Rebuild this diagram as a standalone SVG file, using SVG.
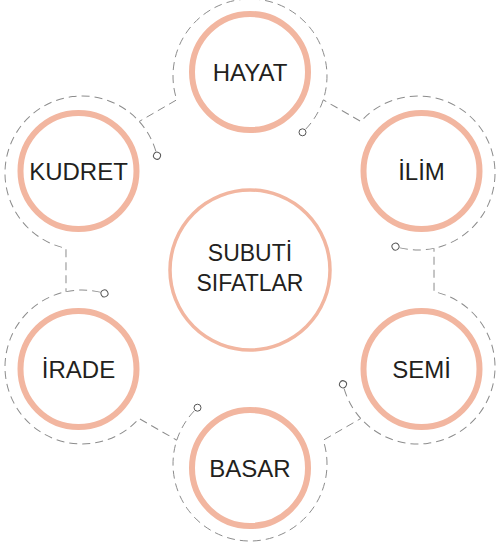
<svg xmlns="http://www.w3.org/2000/svg" xmlns:xlink="http://www.w3.org/1999/xlink" width="496" height="552" viewBox="0 0 496 552">
  <style>
    .ring { fill: #ffffff; stroke: #F2B6A0; stroke-width: 6; }
    .core { fill: #ffffff; stroke: #F2B6A0; stroke-width: 3.5; }
    .lbl { font-family: "Liberation Sans", Arial, sans-serif; font-size: 24px; fill: #231F20; text-anchor: middle; }
    .clbl { font-family: "Liberation Sans", Arial, sans-serif; font-size: 23px; fill: #231F20; text-anchor: middle; }
    .dash { fill: none; stroke: #8C8C8C; stroke-width: 1; stroke-dasharray: 8 5; }
    .term { fill: #ffffff; stroke: #555555; stroke-width: 1; }
  </style>
  <defs>
    <g id="unit">
      <path class="dash" d="M 305.85 129.0 A 77 77 0 1 0 176.77 99.79 L 139.2 121.5"/>
      <circle class="term" cx="302.5" cy="132.3" r="3.5"/>
    </g>
  </defs>
  <rect width="496" height="552" fill="#ffffff"/>
  <g id="connectors">
    <use xlink:href="#unit" href="#unit"/>
    <use xlink:href="#unit" href="#unit" transform="rotate(60 250 270)"/>
    <use xlink:href="#unit" href="#unit" transform="rotate(120 250 270)"/>
    <use xlink:href="#unit" href="#unit" transform="rotate(180 250 270)"/>
    <use xlink:href="#unit" href="#unit" transform="rotate(240 250 270)"/>
    <use xlink:href="#unit" href="#unit" transform="rotate(300 250 270)"/>
  </g>
  <g id="node-center">
    <circle class="core" cx="250" cy="270" r="80"/>
    <text class="clbl" x="250" y="261">SUBUTİ</text>
    <text class="clbl" x="250" y="291">SIFATLAR</text>
  </g>
  <g id="node-hayat">
    <circle class="ring" cx="250" cy="72" r="58"/>
    <text class="lbl" x="250" y="80.5">HAYAT</text>
  </g>
  <g id="node-ilim">
    <circle class="ring" cx="421.5" cy="171" r="58"/>
    <text class="lbl" x="421.5" y="179.5">İLİM</text>
  </g>
  <g id="node-semi">
    <circle class="ring" cx="421.5" cy="369" r="58"/>
    <text class="lbl" x="421.5" y="377.5">SEMİ</text>
  </g>
  <g id="node-basar">
    <circle class="ring" cx="250" cy="468" r="58"/>
    <text class="lbl" x="250" y="476.5">BASAR</text>
  </g>
  <g id="node-irade">
    <circle class="ring" cx="78.5" cy="369" r="58"/>
    <text class="lbl" x="78.5" y="377.5">İRADE</text>
  </g>
  <g id="node-kudret">
    <circle class="ring" cx="78.5" cy="171" r="58"/>
    <text class="lbl" x="78.5" y="179.5">KUDRET</text>
  </g>
</svg>
